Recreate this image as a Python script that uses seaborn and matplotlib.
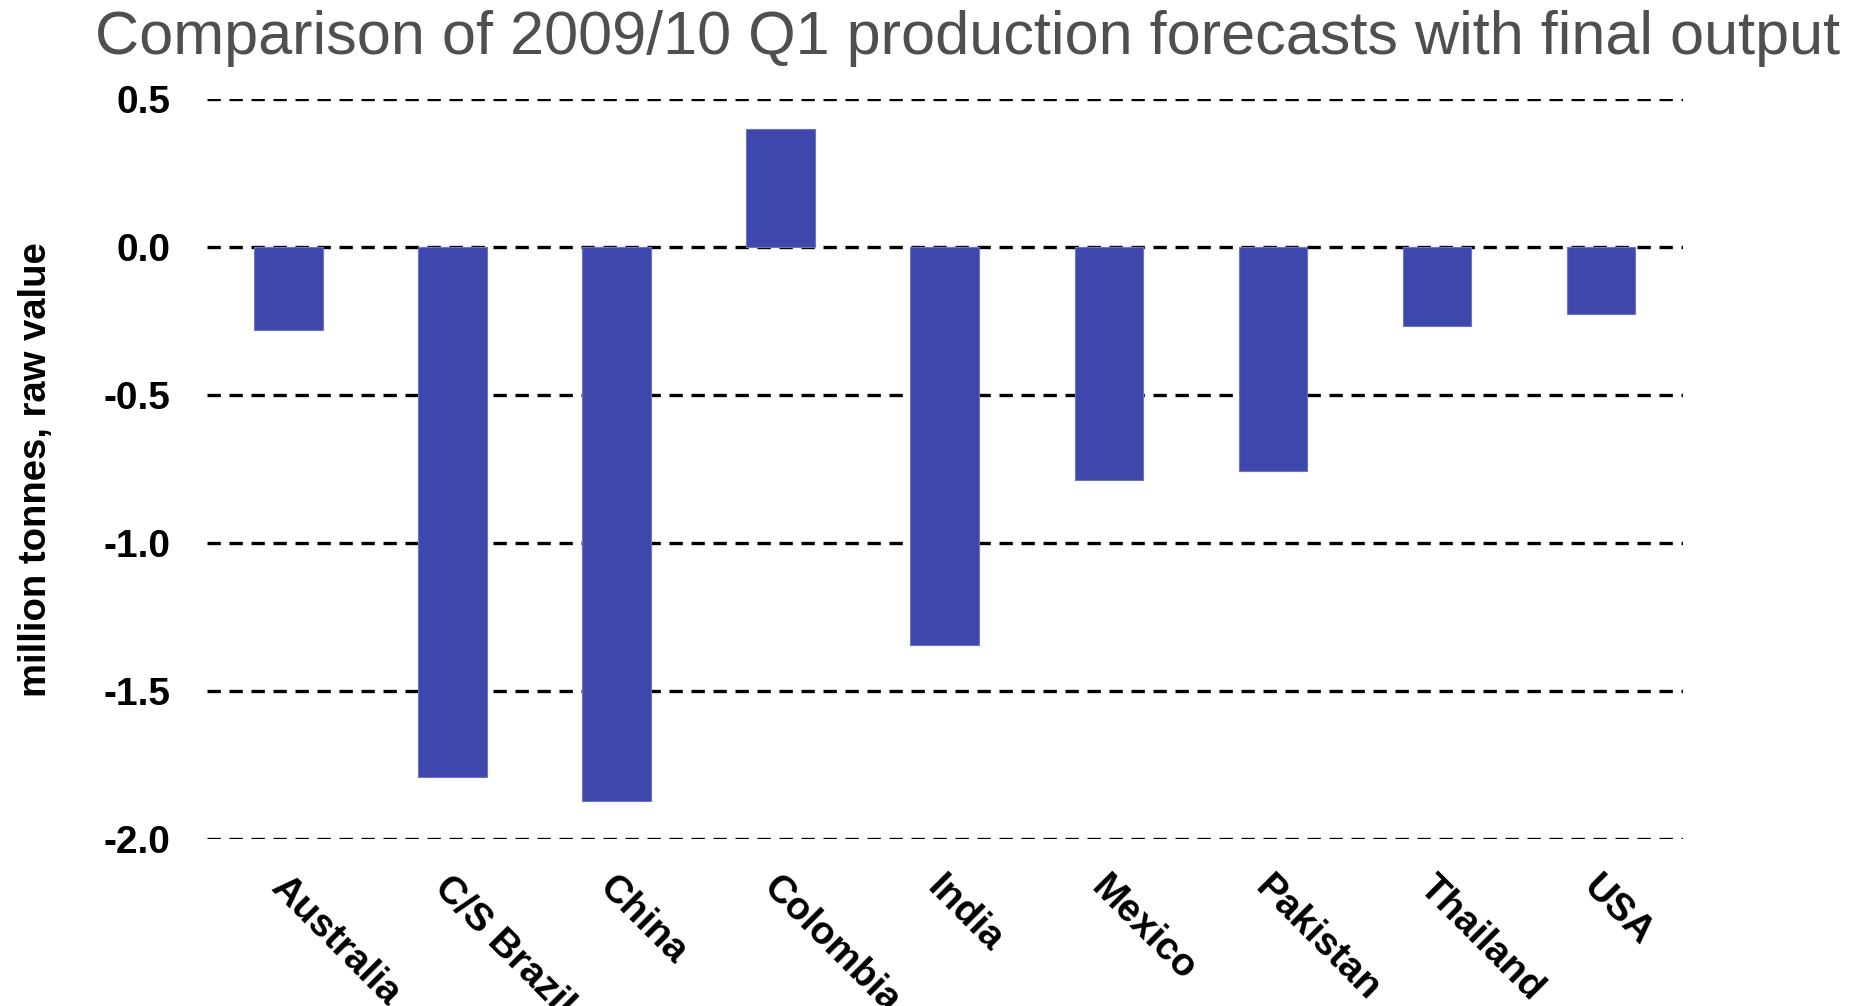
import numpy as np
import pandas as pd
import matplotlib
matplotlib.use("Agg")
import matplotlib.pyplot as plt
import seaborn as sns

# Chart data
countries = ["Australia", "C/S Brazil", "China", "Colombia", "India",
             "Mexico", "Pakistan", "Thailand", "USA"]
difference = [-0.28, -1.79, -1.87, 0.40, -1.345, -0.785, -0.755, -0.265, -0.225]
y_ticks = [0.5, 0.0, -0.5, -1.0, -1.5, -2.0]
y_tick_labels = ["0.5", "0.0", "-0.5", "-1.0", "-1.5", "-2.0"]

sns.set_style("white")
plt.rcParams["font.family"] = ["Liberation Sans", "DejaVu Sans"]
plt.rcParams["axes.unicode_minus"] = False
plt.rcParams["text.color"] = "black"
plt.rcParams["xtick.color"] = "black"
plt.rcParams["ytick.color"] = "black"
plt.rcParams["axes.labelcolor"] = "black"

fig = plt.figure(figsize=(18.68, 10.06), dpi=100)
ax = fig.add_axes([0.1107, 0.166, 0.7903, 0.7353])

df = pd.DataFrame({"country": countries, "diff": difference})
sns.barplot(data=df, x="country", y="diff", color="#3E47AB", saturation=1,
            width=0.42, ax=ax, edgecolor="#6E76C4", linewidth=0.8)

ax.set_ylim(-2.0, 0.5)
ax.set_yticks(y_ticks)
ax.set_yticklabels(y_tick_labels, fontsize=28, fontweight="bold")
ax.set_axisbelow(True)
ax.grid(axis="y", color="black", linestyle=(0, (4, 2.6)), linewidth=2.4)
ax.grid(axis="x", visible=False)
for s in ax.spines.values():
    s.set_visible(False)
ax.tick_params(axis="y", length=0, pad=26)
ax.tick_params(axis="x", length=0, pad=22)

ax.set_xlabel("")
ax.set_xticks(range(len(countries)))
ax.set_xticklabels(countries, rotation=-45, ha="left", va="top",
                   rotation_mode="anchor", fontsize=28, fontweight="bold")

ax.set_ylabel("million tonnes, raw value", fontsize=27.5, fontweight="bold")
ax.yaxis.set_label_coords(-0.1035, 0.5)

fig.text(0.5177, 0.946, "Comparison of 2009/10 Q1 production forecasts with final output",
         ha="center", va="baseline", fontsize=44, color="#4D4F51")

fig.savefig("out.png", dpi=100, facecolor="white")
